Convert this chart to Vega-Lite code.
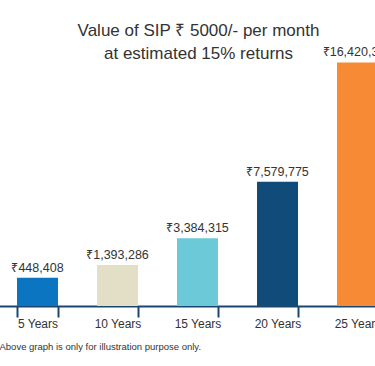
{
  "$schema": "https://vega.github.io/schema/vega-lite/v6.json",
  "width": 375,
  "height": 246,
  "autosize": {"type": "none"},
  "padding": {"top": 60, "left": 0, "right": 0, "bottom": 60},
  "background": "white",
  "config": {"view": {"stroke": null}, "font": "Liberation Sans"},
  "title": {
    "text": ["Value of SIP ₹ 5000/- per month", "at estimated 15% returns"],
    "font": "Liberation Sans",
    "fontSize": 17,
    "fontWeight": "normal",
    "color": "#333333",
    "lineHeight": 22.5,
    "anchor": "middle",
    "frame": "group",
    "offset": 4,
    "dx": 11,
    "dy": 20.5
  },
  "data": {
    "values": [
      {"period": "5 Years", "value": 448408, "label": "₹448,408"},
      {"period": "10 Years", "value": 1393286, "label": "₹1,393,286"},
      {"period": "15 Years", "value": 3384315, "label": "₹3,384,315"},
      {"period": "20 Years", "value": 7579775, "label": "₹7,579,775"},
      {"period": "25 Years", "value": 16420369, "label": "₹16,420,369"}
    ]
  },
  "encoding": {
    "x": {
      "field": "period",
      "type": "nominal",
      "sort": null,
      "scale": {"range": [-2.5, 397.5], "paddingInner": 0.4875, "paddingOuter": 0.24375},
      "axis": {
        "title": "Above graph is only for illustration purpose only.",
        "titleFont": "Liberation Sans",
        "titleFontSize": 9.5,
        "titleFontWeight": "normal",
        "titleColor": "#333333",
        "titleAlign": "left",
        "titleAnchor": "start",
        "titleX": -1,
        "titleY": 43.5,
        "titleBaseline": "alphabetic",
        "labelAngle": 0,
        "labelFont": "Liberation Sans",
        "labelFontSize": 12,
        "labelColor": "#333333",
        "labelPadding": 1.5,
        "tickBand": "extent",
        "tickSize": 11,
        "tickWidth": 2,
        "tickColor": "#1a4670",
        "domainColor": "#1a4670",
        "domainWidth": 2
      }
    },
    "y": {
      "field": "value",
      "type": "quantitative",
      "scale": {"type": "linear", "domain": [-1637500, 16598000], "nice": false, "zero": false},
      "axis": null
    }
  },
  "layer": [
    {
      "mark": {"type": "bar"},
      "encoding": {
        "y2": {"datum": -1637500},
        "color": {
          "field": "period",
          "type": "nominal",
          "scale": {
            "domain": ["5 Years", "10 Years", "15 Years", "20 Years", "25 Years"],
            "range": ["#0b75c2", "#e3dfc6", "#6cc9d8", "#114b7a", "#f68a35"]
          },
          "legend": null
        }
      }
    },
    {
      "mark": {"type": "text", "baseline": "alphabetic", "dy": -6, "fontSize": 12.5, "color": "#333333", "font": "Liberation Sans"},
      "encoding": {"text": {"field": "label"}}
    }
  ]
}
